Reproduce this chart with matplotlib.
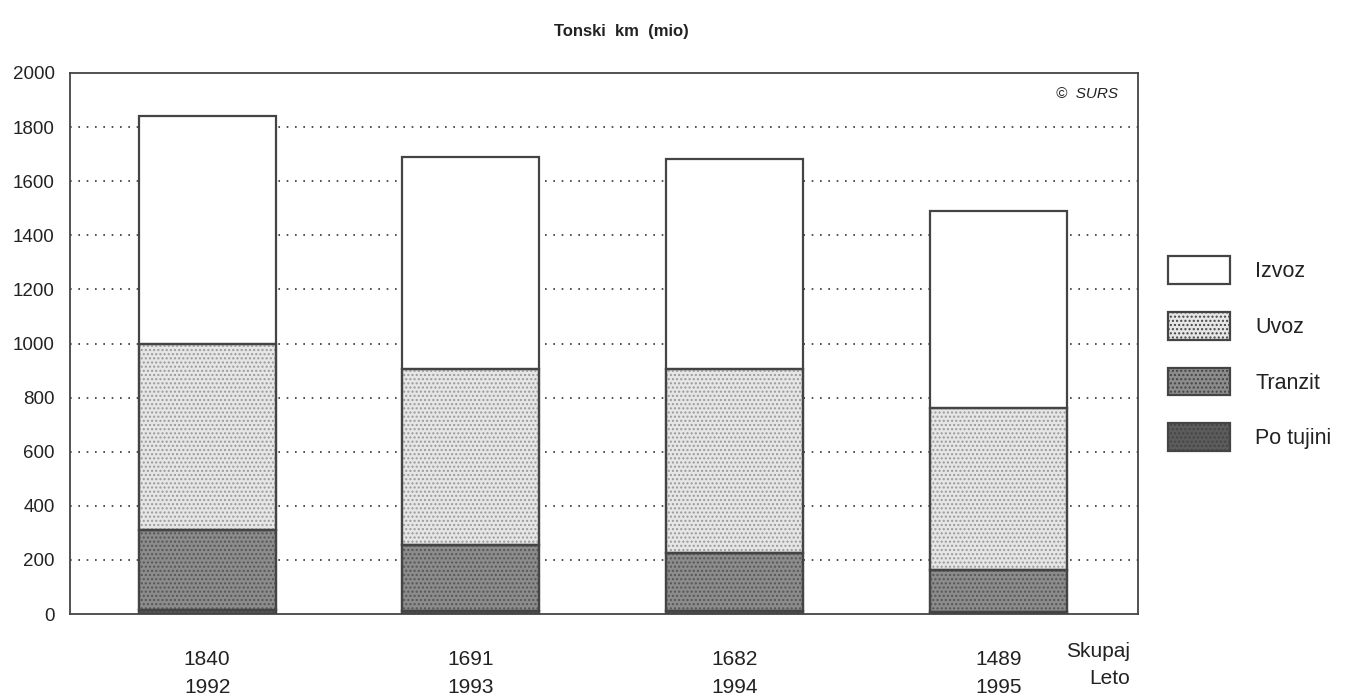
import numpy as np
import matplotlib
matplotlib.use('Agg')
import matplotlib.pyplot as plt
from matplotlib.patches import Patch

plt.rcParams['font.family'] = ['Liberation Sans', 'DejaVu Sans']
plt.rcParams['hatch.linewidth'] = 1.0

# data (tonski km, mio)
years = ['1992', '1993', '1994', '1995']
totals = [1840, 1691, 1682, 1489]
po_tujini = [15, 12, 10, 8]
tranzit = [295, 244, 215, 156]
uvoz = [690, 649, 680, 596]
izvoz = [840, 786, 777, 729]

series = [
    ('Po tujini', po_tujini, '#5c5c5c', '....', '#4a4a4a'),
    ('Tranzit', tranzit, '#8c8c8c', '....', '#555555'),
    ('Uvoz', uvoz, '#e6e6e6', '....', '#9a9a9a'),
    ('Izvoz', izvoz, 'white', None, None),
]

txt = '#222222'

fig = plt.figure(figsize=(13.46, 6.95), dpi=100)
ax = fig.add_axes([0.052, 0.1165, 0.7935, 0.7785])

x = np.arange(len(years))
bottom = np.zeros(len(years))
handles = []
for name, vals, fc, hatch, hc in series:
    ax.bar(x, vals, width=0.52, bottom=bottom, color=fc, edgecolor='#444444',
           linewidth=1.6, zorder=3)
    if hatch:
        # dotted raster like the print
        ax.bar(x, vals, width=0.52, bottom=bottom, color='none', edgecolor=hc,
               hatch=hatch, linewidth=0, zorder=3.5)
        ax.bar(x, vals, width=0.52, bottom=bottom, color='none', edgecolor='#444444',
               linewidth=1.6, zorder=4)
    bottom += np.array(vals)
    handles.append(Patch(facecolor=fc, edgecolor='#444444', hatch=hatch, linewidth=1.6, label=name))

ax.set_xlim(-0.52, 3.53)
ax.set_ylim(0, 2000)
ax.set_yticks(np.arange(0, 2001, 200))
ax.set_yticklabels([str(v) for v in range(0, 2001, 200)], fontsize=13.5, color=txt)
ax.tick_params(axis='y', length=0, pad=11)
ax.set_xticks([])
for v in range(200, 2000, 200):
    ax.axhline(v, color='#333333', linestyle=(0, (1, 4)), linewidth=1.2, zorder=1)
for s in ax.spines.values():
    s.set_color('#444444')
    s.set_linewidth(1.3)

ax.text(0.981, 0.975, '\u00a9  SURS', transform=ax.transAxes, ha='right', va='top',
        fontsize=11, style='italic', color=txt)

fig.text(0.462, 0.955, 'Tonski  km  (mio)', ha='center', va='center', fontsize=12,
         fontweight='bold', color=txt)

# totals and years under the bars
for i in range(len(years)):
    xd = ax.transData.transform((x[i], 0))[0]
    xf = fig.transFigure.inverted().transform((xd, 0))[0]
    fig.text(xf, 0.0504, str(totals[i]), ha='center', va='center', fontsize=15, color=txt)
    fig.text(xf, 0.0115, years[i], ha='center', va='center', fontsize=15, color=txt)
fig.text(0.8395, 0.063, 'Skupaj', ha='right', va='center', fontsize=15, color=txt)
fig.text(0.8395, 0.024, 'Leto', ha='right', va='center', fontsize=15, color=txt)

leg = fig.legend(handles=handles[::-1], loc='upper left', bbox_to_anchor=(0.853, 0.659),
                 frameon=False, fontsize=15.5, handlelength=2.88, handleheight=1.6,
                 labelspacing=1.3, handletextpad=1.2)
for t in leg.get_texts():
    t.set_color(txt)

fig.savefig('out.png', dpi=100, facecolor='white')
